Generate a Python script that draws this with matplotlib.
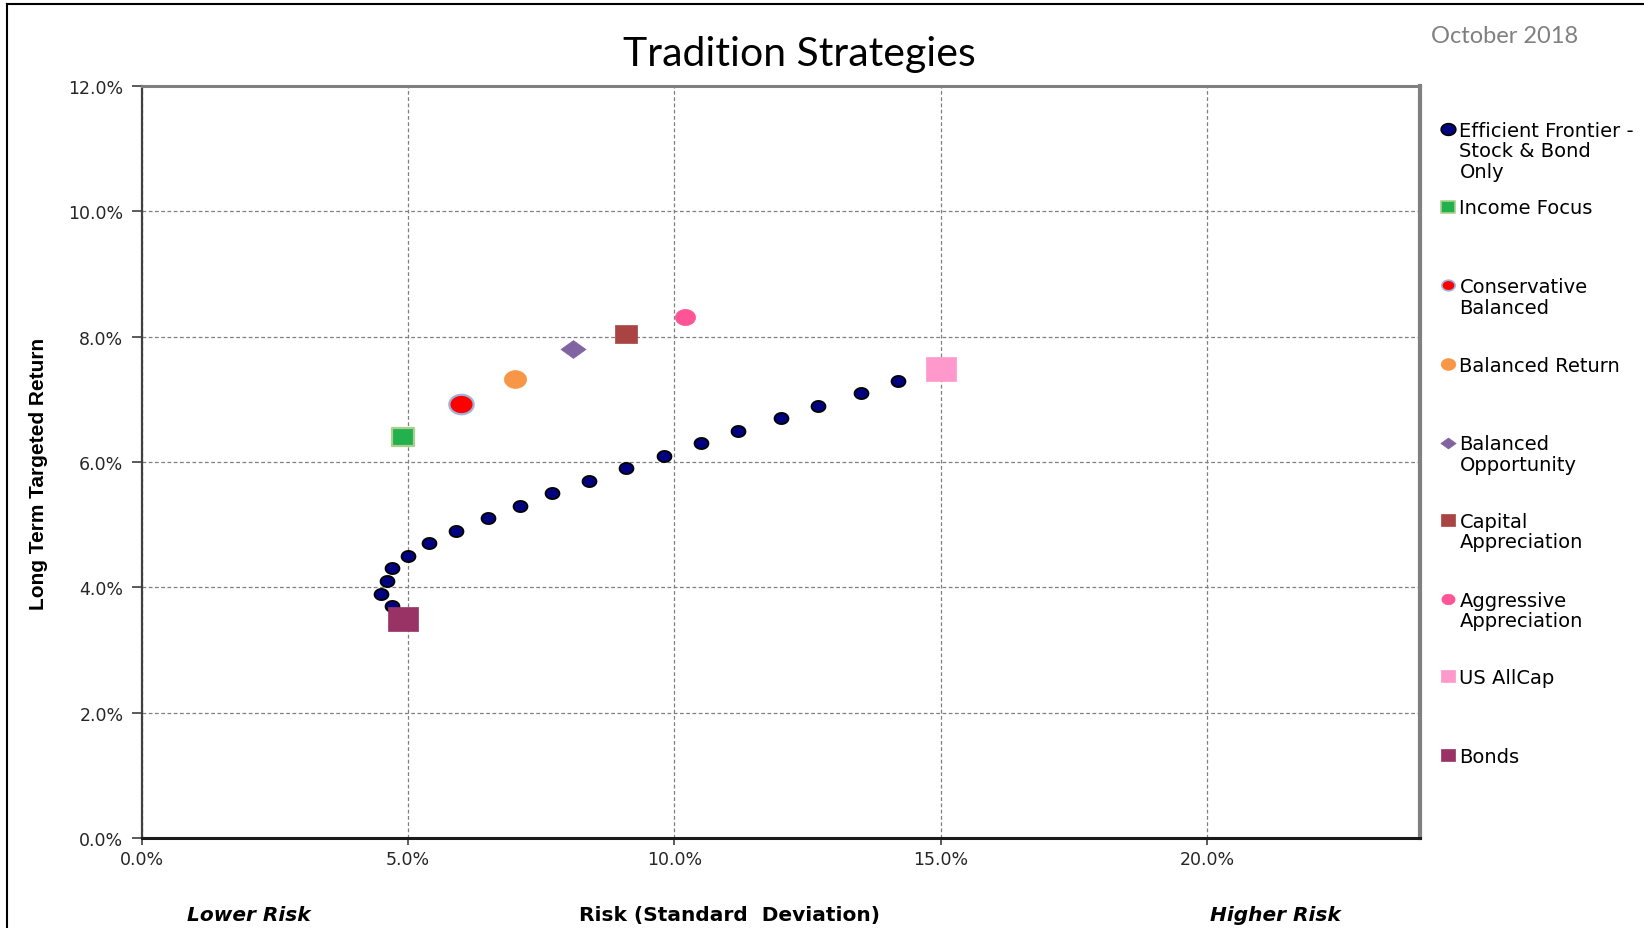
import matplotlib
matplotlib.use("Agg")
import matplotlib.pyplot as plt
import numpy as np
from matplotlib.path import Path
from matplotlib.lines import Line2D
from matplotlib.ticker import FuncFormatter

# ---------------- data ----------------
frontier_risk = [4.7, 4.5, 4.6, 4.7, 5.0, 5.4, 5.9, 6.5, 7.1, 7.7, 8.4, 9.1,
                 9.8, 10.5, 11.2, 12.0, 12.7, 13.5, 14.2]
frontier_ret = [3.7, 3.9, 4.1, 4.3, 4.5, 4.7, 4.9, 5.1, 5.3, 5.5, 5.7, 5.9,
                6.1, 6.3, 6.5, 6.7, 6.9, 7.1, 7.3]

strategy_names = ["Income Focus", "Conservative\nBalanced", "Balanced Return",
                  "Balanced\nOpportunity", "Capital\nAppreciation",
                  "Aggressive\nAppreciation", "US AllCap", "Bonds"]
strategy_risk = [4.9, 6.0, 7.0, 8.1, 9.1, 10.2, 15.0, 4.9]
strategy_ret = [6.4, 6.93, 7.33, 7.8, 8.05, 8.32, 7.48, 3.5]

frontier_name = "Efficient Frontier -\nStock & Bond\nOnly"

x_ticks = [0, 5, 10, 15, 20]
y_ticks = [0, 2, 4, 6, 8, 10, 12]

# ---------------- marker shapes ----------------
t = np.linspace(0, 2 * np.pi, 60)
ellipse = Path(np.column_stack([1.25 * np.cos(t), np.sin(t)]), closed=True)
rect = Path([(-1.25, -1), (1.25, -1), (1.25, 1), (-1.25, 1), (-1.25, -1)], closed=True)
diamond = Path([(0, 1), (1.4, 0), (0, -1), (-1.4, 0), (0, 1)], closed=True)

# style per strategy: (marker, face, edge, size, edgewidth)
styles = [
    (rect, "#22B14C", "#A9D08E", 16.5, 1.6),
    (ellipse, "#FF0000", "#9DB5DB", 17.5, 1.6),
    (ellipse, "#F79646", "#F79646", 16.0, 0.5),
    (diamond, "#8064A2", "#8064A2", 18.0, 0.5),
    (rect, "#A94442", "#A94442", 16.5, 0.5),
    (ellipse, "#FF5596", "#FF5596", 14.5, 0.5),
    (rect, "#FF99CC", "#FF99CC", 21.5, 0.5),
    (rect, "#993366", "#993366", 21.5, 0.5),
]
legend_sizes = [10.0, 9.5, 10.5, 11.0, 10.5, 9.5, 10.5, 10.5]

# ---------------- figure ----------------
plt.rcParams["font.family"] = ["DejaVu Sans"]
fig = plt.figure(figsize=(16.44, 9.29), dpi=100)
ax = fig.add_axes([0.0861, 0.097, 0.864 - 0.0861, 0.9063 - 0.097])

ax.plot(frontier_risk, frontier_ret, linestyle="none", marker=ellipse,
        markersize=10, markerfacecolor="#000080", markeredgecolor="black",
        markeredgewidth=1.3, zorder=3)

for i in range(len(strategy_names)):
    m, fc, ec, ms, mew = styles[i]
    ax.plot([strategy_risk[i]], [strategy_ret[i]], linestyle="none", marker=m,
            markersize=ms, markerfacecolor=fc, markeredgecolor=ec,
            markeredgewidth=mew, zorder=4)

ax.set_xlim(0, 24)
ax.set_ylim(0, 12)
ax.xaxis.set_major_locator(plt.FixedLocator(x_ticks))
ax.yaxis.set_major_locator(plt.FixedLocator(y_ticks))
fmt = FuncFormatter(lambda v, p: f"{v:.1f}%")
ax.xaxis.set_major_formatter(fmt)
ax.yaxis.set_major_formatter(fmt)
ax.grid(True, color="#808080", linestyle=(0, (3, 2)), linewidth=0.9)
ax.set_axisbelow(True)

ax.tick_params(axis="y", direction="out", length=7, width=1.2, color="#404040",
               labelsize=12.5, labelcolor="#262626", pad=6)
ax.tick_params(axis="x", direction="out", length=5, width=1.2, color="#404040",
               labelsize=12.5, labelcolor="#262626", pad=4)

ax.spines["left"].set_color("#404040")
ax.spines["left"].set_linewidth(1.6)
ax.spines["bottom"].set_color("#1a1a1a")
ax.spines["bottom"].set_linewidth(2.2)
ax.spines["top"].set_color("#808080")
ax.spines["top"].set_linewidth(2.2)
ax.spines["right"].set_color("#808080")
ax.spines["right"].set_linewidth(3)

fig.text(0.0236, 0.4898, "Long Term Targeted Return", rotation=90, ha="center",
         va="center", fontsize=15, fontweight="bold", color="black",
         family=["Liberation Sans", "DejaVu Sans"])

# title & date
fig.text(0.486, 0.941, "Tradition Strategies", ha="center", va="center",
         fontsize=29.5, family=["Lato", "DejaVu Sans"], color="black")
fig.text(0.9152, 0.9605, "October 2018", ha="center", va="center",
         fontsize=17, family=["Lato", "DejaVu Sans"], color="#808080")

# bottom labels
fig.text(0.1511, 0.0147, "Lower Risk", ha="center", va="center", fontsize=14.5,
         fontweight="bold", fontstyle="italic")
fig.text(0.4439, 0.0147, "Risk (Standard  Deviation)", ha="center", va="center",
         fontsize=14.5, fontweight="bold")
fig.text(0.776, 0.0147, "Higher Risk", ha="center", va="center", fontsize=14.5,
         fontweight="bold", fontstyle="italic")

# legend (manual)
leg_y_px = [124, 198, 273, 348, 423, 497, 572, 646, 721]
H = 886.0
mx, tx = 1381 / 1568.0, 1392 / 1568.0
names = [frontier_name] + strategy_names
for k, name in enumerate(names):
    yf = 1 - leg_y_px[k] / H
    if k == 0:
        m, fc, ec, mew = ellipse, "#000080", "black", 1.2
        ms = 10.5
    else:
        m, fc, ec, _, mew = styles[k - 1]
        mew = min(mew, 1.2)
        ms = legend_sizes[k - 1]
    fig.add_artist(Line2D([mx], [yf], transform=fig.transFigure, linestyle="none",
                          marker=m, markersize=ms, markerfacecolor=fc,
                          markeredgecolor=ec, markeredgewidth=mew))
    fig.text(tx, yf + 0.0088, name, ha="left", va="top", fontsize=14,
             linespacing=1.1, color="black")

# figure border (top and left)
fig.add_artist(Line2D([0.00446, 1.0], [0.9944, 0.9944], transform=fig.transFigure,
                      color="black", linewidth=1.5))
fig.add_artist(Line2D([0.00446, 0.00446], [0.0, 0.9944], transform=fig.transFigure,
                      color="black", linewidth=1.5))

fig.savefig("out.png", dpi=100)
